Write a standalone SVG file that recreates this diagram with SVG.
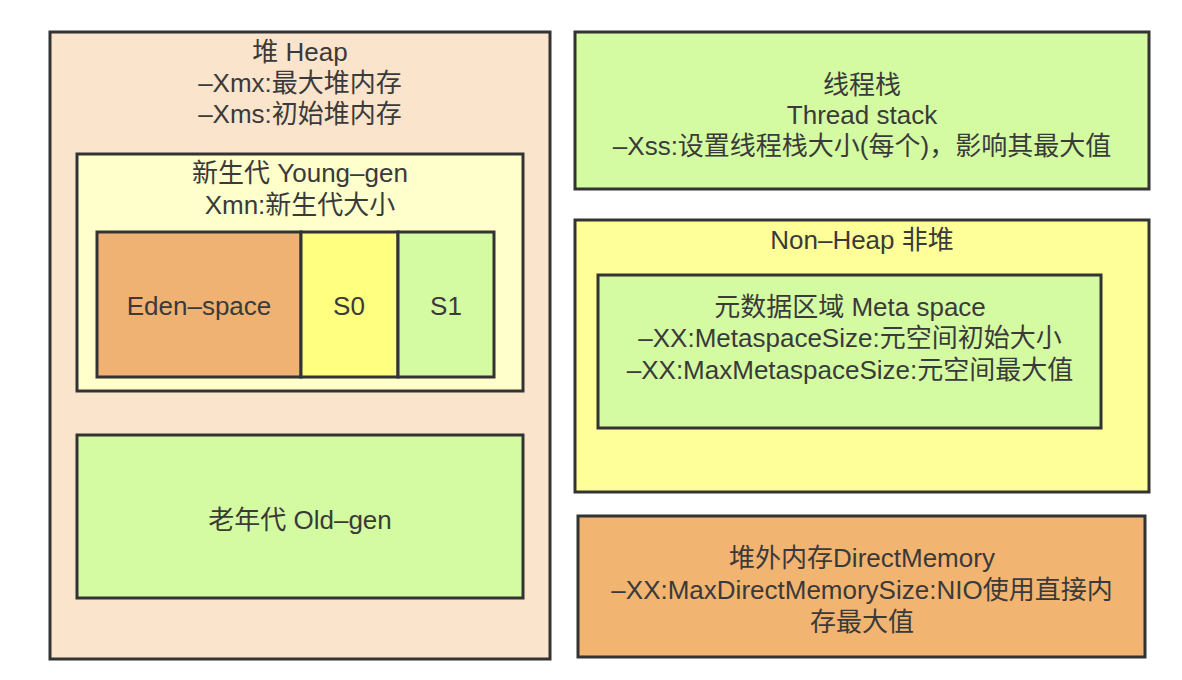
<svg xmlns="http://www.w3.org/2000/svg" width="1182" height="680" viewBox="0 0 1182 680">
<style>
.b{stroke:#333;stroke-width:3}
text{font-family:"Liberation Sans","Noto Sans CJK SC",sans-serif;font-size:26px;fill:#3a3a3a;text-anchor:middle}
</style>
<rect width="1182" height="680" fill="#fff"/>
<g id="heap">
<rect class="b" x="50" y="32" width="500" height="627" fill="#FAE4CC"/>
<text x="300" y="61">堆 Heap</text>
<text x="300" y="92">–Xmx:最大堆内存</text>
<text x="300" y="123">–Xms:初始堆内存</text>
</g>
<g id="young-gen">
<rect class="b" x="77" y="154" width="446" height="237" fill="#FFFFCC"/>
<text x="300" y="182">新生代 Young–gen</text>
<text x="300" y="214">Xmn:新生代大小</text>
</g>
<g id="eden">
<rect class="b" x="97" y="232" width="204" height="145" fill="#F0B273"/>
<text x="199" y="315">Eden–space</text>
</g>
<g id="s0">
<rect class="b" x="301" y="232" width="97" height="145" fill="#FFFF80"/>
<text x="349" y="315">S0</text>
</g>
<g id="s1">
<rect class="b" x="398" y="232" width="96" height="145" fill="#D5FBA2"/>
<text x="446" y="315">S1</text>
</g>
<g id="old-gen">
<rect class="b" x="77" y="435" width="446" height="163" fill="#D5FBA2"/>
<text x="300" y="529">老年代 Old–gen</text>
</g>
<g id="thread-stack">
<rect class="b" x="575" y="32" width="574" height="157" fill="#D5FBA2"/>
<text x="862" y="94">线程栈</text>
<text x="862" y="124">Thread stack</text>
<text x="862" y="155">–Xss:设置线程栈大小(每个)，影响其最大值</text>
</g>
<g id="non-heap">
<rect class="b" x="575" y="220" width="574" height="272" fill="#FFFF99"/>
<text x="862" y="249">Non–Heap 非堆</text>
</g>
<g id="meta-space">
<rect class="b" x="598" y="275" width="503" height="153" fill="#D5FBA2"/>
<text x="850" y="316">元数据区域 Meta space</text>
<text x="850" y="347">–XX:MetaspaceSize:元空间初始大小</text>
<text x="850" y="379">–XX:MaxMetaspaceSize:元空间最大值</text>
</g>
<g id="direct-memory">
<rect class="b" x="578" y="516" width="567" height="141" fill="#F2B471"/>
<text x="862" y="567">堆外内存DirectMemory</text>
<text x="862" y="599">–XX:MaxDirectMemorySize:NIO使用直接内</text>
<text x="862" y="631">存最大值</text>
</g>
<g id="connectors"></g>
</svg>
